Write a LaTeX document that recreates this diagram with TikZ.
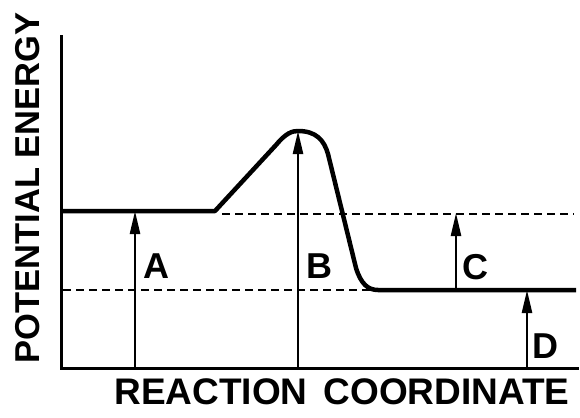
\documentclass[tikz,border=0pt]{standalone}
\usepackage{fontspec}
\setmainfont{Liberation Sans}
\usetikzlibrary{arrows.meta}

\begin{document}
\begin{tikzpicture}[x=1pt, y=-1pt,
  axis/.style={line width=3pt, line cap=rect},
  curve/.style={line width=4.5pt, line join=round},
  level/.style={line width=2.6pt, dash pattern=on 8pt off 5pt},
  gap/.style={line width=2.4pt, -{Triangle[length=23pt,width=10pt]}},
  letter/.style={font=\fontsize{36}{40}\selectfont\bfseries, inner sep=0pt}
]
\useasboundingbox[fill=white] (0,0) rectangle (580,417);

% axes
\coordinate (top) at (61,37);
\coordinate (origin) at (61,368);
\coordinate (xend) at (577,368);
\draw[axis] (top) -- (origin) -- (xend);

% energy levels
\coordinate (react) at (61,211);
\coordinate (rise) at (215,211);
\coordinate (peak) at (298,131);
\coordinate (prod) at (378,290);
\coordinate (pend) at (576,290);
\draw[curve] (react) -- (rise) -- (276,145)
  .. controls (286,133) and (292,131) .. (peak)
  .. controls (316,131) and (324,140) .. (328,154)
  -- (356,268) .. controls (361,284) and (368,290) .. (prod) -- (pend);

\coordinate (hi1) at (222,214);
\coordinate (hi2) at (574,214);
\coordinate (lo1) at (63,290);
\coordinate (lo2) at (376,290);
\draw[level] (hi1) -- (hi2);
\draw[level] (lo1) -- (lo2);

% gaps
\coordinate (a0) at (135,368);
\coordinate (a1) at (135,211);
\coordinate (b0) at (298,368);
\coordinate (b1) at (298,131);
\coordinate (c0) at (456,290);
\coordinate (c1) at (456,213);
\coordinate (d0) at (527,368);
\coordinate (d1) at (527,290);
\draw[gap] (a0) -- (a1);
\draw[gap] (b0) -- (b1);
\draw[gap] (c0) -- (c1);
\draw[gap] (d0) -- (d1);

\node[letter] (labA) at (156,266) {A};
\node[letter] (labB) at (319,266) {B};
\node[letter] (labC) at (475,267) {C};
\node[letter] (labD) at (545,346) {D};

\node[letter, rotate=90, font=\fontsize{34.5}{40}\selectfont\bfseries] (ylab) at (28,188) {POTENTIAL ENERGY};
\node[letter, font=\fontsize{37}{40}\selectfont\bfseries] (xlab) at (342,392) {REACTION\hspace{16pt}COORDINATE};
\end{tikzpicture}
\end{document}
